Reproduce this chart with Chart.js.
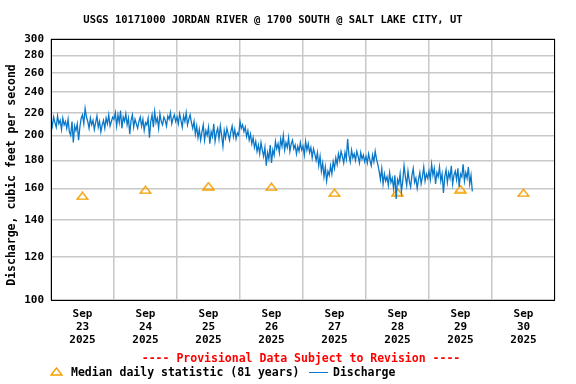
<!DOCTYPE html>
<html>
<head>
<meta charset="utf-8">
<script src="https://cdn.jsdelivr.net/npm/chart.js@4"></script>
<style>
  html, body { margin: 0; padding: 0; background: #fff; }
  #wrap { width: 576px; height: 384px; }
</style>
</head>
<body>
<div id="wrap"><canvas id="flowChart" width="576" height="384"></canvas></div>
<script>
// half-hourly discharge (cfs), one array per day starting at midnight
const sep23 = [214, 208, 216, 211, 207, 217, 210, 213, 205, 215,
               209, 212, 206, 214, 203, 200, 212, 194, 208, 204,
               210, 196, 207, 215, 218, 210, 224, 216, 212, 206,
               215, 209, 213, 205, 211, 217, 207, 212, 203, 209,
               213, 206, 215, 210, 218, 208, 212, 216];
const sep24 = [214, 220, 208, 218, 211, 222, 206, 216, 212, 219,
               209, 215, 201, 213, 218, 207, 214, 210, 206, 212,
               216, 208, 214, 204, 211, 209, 215, 198, 212, 218,
               207, 221, 211, 215, 206, 219, 212, 209, 216, 213,
               208, 217, 214, 220, 210, 215, 218, 212];
const sep25 = [216, 210, 219, 213, 207, 217, 212, 220, 209, 214,
               218, 211, 206, 212, 201, 208, 198, 205, 196, 203,
               209, 196, 204, 200, 207, 193, 203, 199, 210, 195,
               202, 206, 197, 208, 200, 191, 204, 198, 206, 201,
               196, 203, 208, 199, 205, 197, 202, 200];
const sep26 = [212, 206, 209, 203, 207, 199, 204, 196, 201, 193,
               198, 190, 195, 187, 192, 185, 194, 188, 183, 190,
               176, 186, 181, 192, 178, 188, 184, 195, 189, 193,
               186, 197, 191, 200, 188, 194, 190, 198, 187, 193,
               196, 189, 192, 185, 191, 187, 194, 188];
const sep27 = [191, 184, 195, 188, 193, 186, 190, 182, 189, 185,
               180, 186, 176, 183, 172, 178, 168, 175, 165, 172,
               169, 176, 170, 179, 174, 182, 177, 185, 180, 187,
               183, 178, 186, 181, 197, 184, 179, 188, 182, 185,
               180, 187, 183, 178, 186, 181, 184, 179];
const sep28 = [183, 178, 185, 180, 176, 184, 179, 187, 181, 177,
               172, 166, 174, 163, 170, 165, 168, 162, 171, 164,
               167, 160, 169, 153, 166, 163, 170, 158, 165, 176,
               168, 162, 172, 165, 161, 169, 174, 164, 167, 160,
               166, 171, 163, 168, 175, 165, 170, 167];
const sep29 = [172, 166, 177, 169, 174, 163, 171, 168, 175, 165,
               170, 157, 168, 173, 164, 171, 167, 176, 163, 169,
               172, 166, 174, 161, 170, 168, 177, 165, 171, 167,
               175, 163, 169, 158];

const dayNames = ["23", "24", "25", "26", "27", "28", "29", "30"];
const medianValues = [155, 159, 161.5, 161, 157, 157.5, 159.5, 157];
const yTickValues = [100, 120, 140, 160, 180, 200, 220, 240, 260, 280, 300];

const BLUE = "#0a78c8";
const ORANGE = "#f5a000";
const FONT = "'DejaVu Sans Mono', monospace";

// hours since Sep 23 00:00
let discharge = [];
[sep23, sep24, sep25, sep26, sep27, sep28, sep29].forEach((day, d) => {
    day.forEach((v, i) => discharge.push({ x: d * 24 + i * 0.5, y: v }));
});
const medians = medianValues.map((v, d) => ({ x: d * 24 + 12, y: v }));

function makeTriangle() {
    const c = document.createElement("canvas");
    c.width = 13;
    c.height = 9;
    const g = c.getContext("2d");
    g.strokeStyle = ORANGE;
    g.lineWidth = 1.4;
    g.beginPath();
    g.moveTo(1, 8);
    g.lineTo(6.5, 1);
    g.lineTo(12, 8);
    g.closePath();
    g.stroke();
    return c;
}
const triangleImg = makeTriangle();

const extraText = {
    id: "extraText",
    afterDraw(chart) {
        const ctx = chart.ctx;
        const a = chart.chartArea;
        ctx.save();
        // box around plot
        ctx.strokeStyle = "#000";
        ctx.lineWidth = 1;
        ctx.strokeRect(a.left + 0.5, a.top + 0.5, a.right - a.left - 1, a.bottom - a.top);

        ctx.textBaseline = "middle";
        ctx.fillStyle = "#000";
        ctx.font = "bold 10.5px " + FONT;
        ctx.textAlign = "center";
        ctx.fillText("USGS 10171000 JORDAN RIVER @ 1700 SOUTH @ SALT LAKE CITY, UT", 273, 20);

        // y axis title
        ctx.save();
        ctx.translate(12, 175);
        ctx.rotate(-Math.PI / 2);
        ctx.font = "bold 11.5px " + FONT;
        ctx.fillText("Discharge, cubic feet per second", 0, 0);
        ctx.restore();

        ctx.font = "bold 11.5px " + FONT;
        ctx.fillStyle = "#ff0000";
        ctx.fillText("---- Provisional Data Subject to Revision ----", 301, 359);

        ctx.drawImage(triangleImg, 50, 367);
        ctx.fillStyle = "#000";
        ctx.textAlign = "left";
        ctx.fillText("Median daily statistic (81 years)", 71, 373);
        ctx.strokeStyle = BLUE;
        ctx.beginPath();
        ctx.moveTo(309, 372.5);
        ctx.lineTo(328, 372.5);
        ctx.stroke();
        ctx.fillText("Discharge", 333, 373);
        ctx.restore();
    }
};

new Chart(document.getElementById("flowChart"), {
    type: "line",
    data: {
        datasets: [{
            label: "Discharge",
            data: discharge,
            borderColor: BLUE,
            borderWidth: 1.3,
            pointRadius: 0,
            tension: 0,
            fill: false
        }, {
            label: "Median daily statistic (81 years)",
            data: medians,
            showLine: false,
            pointStyle: triangleImg,
            pointRadius: 6
        }]
    },
    options: {
        responsive: false,
        animation: false,
        devicePixelRatio: 1,
        layout: { padding: { top: 39, right: 21, left: 0, bottom: 0 } },
        plugins: {
            legend: { display: false },
            title: { display: false },
            tooltip: { enabled: false }
        },
        scales: {
            x: {
                type: "linear",
                min: 0,
                max: 192,
                afterFit(scale) { scale.height = 84; },
                afterBuildTicks(scale) {
                    const t = [];
                    for (let h = 0; h <= 192; h += 12) t.push({ value: h });
                    scale.ticks = t;
                },
                border: { display: false },
                grid: {
                    drawTicks: false,
                    color: (c) => (c.tick && c.tick.value % 24 === 0) ? "#c8c8c8" : "rgba(0,0,0,0)",
                    lineWidth: 1.5
                },
                ticks: {
                    autoSkip: false,
                    maxRotation: 0,
                    padding: 7,
                    color: "#000",
                    font: { family: FONT, size: 11, weight: "bold", lineHeight: 1.22 },
                    callback: (v) => (v % 24 === 12) ? ["Sep", dayNames[(v - 12) / 24], "2025"] : ""
                }
            },
            y: {
                type: "logarithmic",
                min: 100,
                max: 300,
                afterFit(scale) { scale.width = 51; },
                afterBuildTicks(scale) {
                    scale.ticks = yTickValues.map(v => ({ value: v }));
                },
                border: { display: false },
                grid: { drawTicks: false, color: "#c8c8c8", lineWidth: 1.5 },
                ticks: {
                    padding: 7,
                    color: "#000",
                    font: { family: FONT, size: 11, weight: "bold" },
                    callback: (v) => String(v)
                },
                title: { display: false }
            }
        }
    },
    plugins: [extraText]
});
</script>
</body>
</html>
